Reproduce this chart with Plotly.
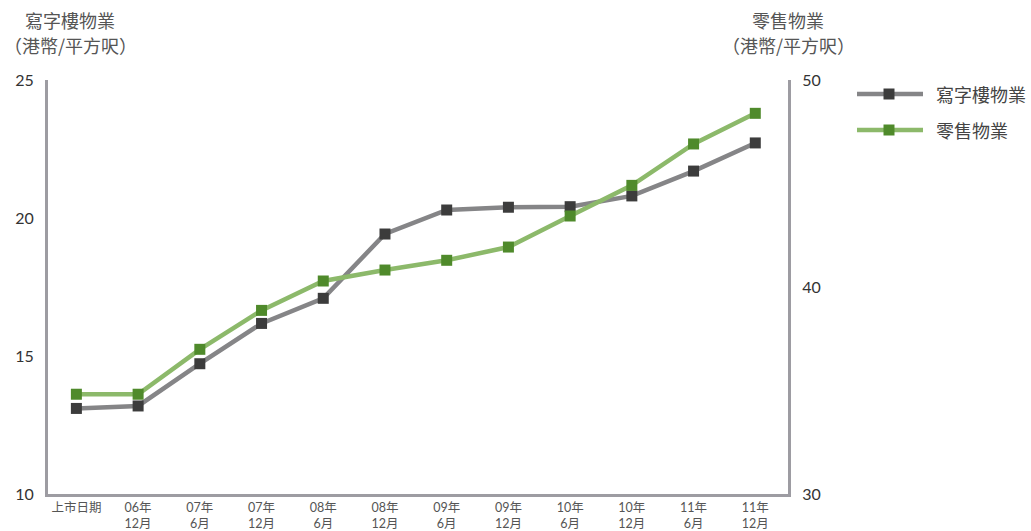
import plotly.graph_objects as go

# ---- data ----
categories = ["上市日期", "06年<br>12月", "07年<br>6月", "07年<br>12月", "08年<br>6月", "08年<br>12月",
              "09年<br>6月", "09年<br>12月", "10年<br>6月", "10年<br>12月", "11年<br>6月", "11年<br>12月"]
office = [13.10, 13.19, 14.72, 16.18, 17.09, 19.42, 20.29, 20.39, 20.41, 20.80, 21.70, 22.72]
retail = [34.82, 34.82, 36.99, 38.87, 40.29, 40.82, 41.29, 41.93, 43.43, 44.91, 46.91, 48.39]
office_name = "寫字樓物業"
retail_name = "零售物業"
left_ticks = [10, 15, 20, 25]
right_ticks = [30, 40, 50]
unit_label = "（港幣/平方呎）"

# ---- style ----
W, H = 1031, 531
L, R, T, B = 48, 243, 80, 37
FONT = "Lato, 'Noto Sans CJK TC', sans-serif"
CJK = "'Noto Sans CJK TC', sans-serif"
office_line, office_mark = "#858587", "#3c3c3c"
retail_line, retail_mark = "#8cb96a", "#4f8a2b"
axis_col = "#9d9ca2"

pw, ph = W - L - R, H - T - B
def px(x):
    return (x - L) / pw
def py(y):
    return (H - B - y) / ph

x_idx = list(range(len(categories)))

fig = go.Figure()
fig.add_trace(go.Scatter(x=x_idx, y=office, name=office_name, mode="lines+markers",
                         line=dict(color=office_line, width=4.5),
                         marker=dict(symbol="square", size=11, color=office_mark),
                         yaxis="y"))
fig.add_trace(go.Scatter(x=x_idx, y=retail, name=retail_name, mode="lines+markers",
                         line=dict(color=retail_line, width=4.5),
                         marker=dict(symbol="square", size=11, color=retail_mark),
                         yaxis="y2"))

fig.update_layout(
    width=W, height=H,
    margin=dict(l=L, r=R, t=T, b=B, autoexpand=False),
    paper_bgcolor="white", plot_bgcolor="white",
    showlegend=False,
    font=dict(family=FONT, color="#333333"),
    xaxis=dict(range=[-0.46, 11.53], tickvals=x_idx, ticktext=categories,
               showgrid=False, zeroline=False, showline=True, linecolor=axis_col, linewidth=3,
               ticks="", tickfont=dict(size=12.5, color="#555555"), fixedrange=True),
    yaxis=dict(range=[10, 25], tickvals=left_ticks, showgrid=False, zeroline=False,
               showline=True, linecolor=axis_col, linewidth=3, ticks="",
               ticklabelstandoff=8,
               tickfont=dict(size=16, color="#333333")),
    yaxis2=dict(range=[30, 50], tickvals=right_ticks, overlaying="y", side="right",
                showgrid=False, zeroline=False, showline=True, linecolor=axis_col, linewidth=3,
                ticks="", ticklabelstandoff=8, tickfont=dict(size=16, color="#333333")),
)

# axis titles
for cx, name in [(70, office_name), (788, retail_name)]:
    fig.add_annotation(x=px(cx), y=py(20), xref="paper", yref="paper", text=name,
                       showarrow=False, xanchor="center", yanchor="middle",
                       font=dict(family=CJK, size=18, color="#555555"))
    fig.add_annotation(x=px(cx), y=py(45), xref="paper", yref="paper", text=unit_label,
                       showarrow=False, xanchor="center", yanchor="middle",
                       font=dict(family=CJK, size=18, color="#555555"))

# custom legend
for ly, name, lc, mc in [(94, office_name, office_line, office_mark),
                         (130, retail_name, retail_line, retail_mark)]:
    fig.add_shape(type="line", xref="paper", yref="paper", x0=px(857), x1=px(923),
                  y0=py(ly), y1=py(ly), line=dict(color=lc, width=4.5))
    fig.add_shape(type="rect", xref="paper", yref="paper", x0=px(883.5), x1=px(894.5),
                  y0=py(ly - 5.5), y1=py(ly + 5.5), line=dict(width=0), fillcolor=mc)
    fig.add_annotation(x=px(934), y=py(ly), xref="paper", yref="paper", text=name,
                       showarrow=False, xanchor="left", yanchor="middle",
                       font=dict(family=CJK, size=18, color="#444444"))

fig.write_html("out.html", config={"displayModeBar": False})
